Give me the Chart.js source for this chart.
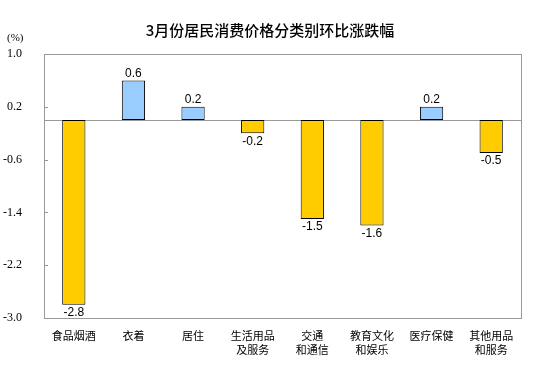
<!DOCTYPE html>
<html>
<head>
<meta charset="utf-8">
<script src="https://cdn.jsdelivr.net/npm/chart.js@4/dist/chart.umd.min.js"></script>
<style>
  html, body { margin: 0; padding: 0; background: #fff; }
  #wrap { width: 554px; height: 384px; }
</style>
</head>
<body>
<div id="wrap"><canvas id="cpiChart" width="554" height="384"></canvas></div>
<script>
'use strict';

// Data
const chartTitle = '3月份居民消费价格分类别环比涨跌幅';
const unitLabel = '(%)';
const categories = [
  ['食品烟酒'],
  ['衣着'],
  ['居住'],
  ['生活用品', '及服务'],
  ['交通', '和通信'],
  ['教育文化', '和娱乐'],
  ['医疗保健'],
  ['其他用品', '和服务']
];
const momChange = [-2.8, 0.6, 0.2, -0.2, -1.5, -1.6, 0.2, -0.5];
const yTicks = [-3.0, -2.2, -1.4, -0.6, 0.2, 1.0];

const UP_COLOR = '#99CCFF';
const DOWN_COLOR = '#FFCC00';
const FRAME_COLOR = '#999999';

// Plot frame, zero line and inward tick marks
const framePlugin = {
  id: 'frame',
  beforeDatasetsDraw(chart) {
    const { ctx, chartArea: a, scales: { y } } = chart;
    ctx.save();
    ctx.strokeStyle = FRAME_COLOR;
    ctx.lineWidth = 1;
    ctx.strokeRect(a.left + 0.5, a.top + 0.5, a.right - a.left, a.bottom - a.top);
    const y0 = Math.round(y.getPixelForValue(0)) + 0.5;
    ctx.beginPath();
    ctx.moveTo(a.left, y0);
    ctx.lineTo(a.right, y0);
    yTicks.slice(1, -1).forEach(v => {
      const py = Math.round(y.getPixelForValue(v)) + 0.5;
      ctx.moveTo(a.left, py);
      ctx.lineTo(a.left + 4, py);
    });
    ctx.stroke();
    ctx.restore();
  }
};

// Title, unit and value labels
const textPlugin = {
  id: 'texts',
  afterDraw(chart) {
    const { ctx } = chart;
    ctx.save();
    ctx.fillStyle = '#000';
    ctx.font = '500 15px "Noto Sans CJK SC", sans-serif';
    ctx.textAlign = 'center';
    ctx.textBaseline = 'middle';
    ctx.fillText(chartTitle, 270, 30);

    ctx.font = '11px "Liberation Serif", "Times New Roman", serif';
    ctx.textAlign = 'left';
    ctx.fillText(unitLabel, 7, 38);

    ctx.font = '12px "Liberation Sans", Arial, sans-serif';
    ctx.textAlign = 'center';
    const meta = chart.getDatasetMeta(0);
    meta.data.forEach((bar, i) => {
      const v = momChange[i];
      if (v >= 0) {
        ctx.textBaseline = 'bottom';
        ctx.fillText(v.toFixed(1), bar.x, bar.y - 1);
      } else {
        ctx.textBaseline = 'top';
        ctx.fillText(v.toFixed(1), bar.x, bar.y + 2);
      }
    });
    ctx.restore();
  }
};

const ctx = document.getElementById('cpiChart').getContext('2d');
new Chart(ctx, {
  type: 'bar',
  data: {
    labels: categories,
    datasets: [{
      data: momChange,
      backgroundColor: momChange.map(v => (v >= 0 ? UP_COLOR : DOWN_COLOR)),
      borderColor: '#000',
      borderWidth: 1,
      borderSkipped: false,
      barPercentage: 0.39,
      categoryPercentage: 1
    }]
  },
  options: {
    responsive: false,
    animation: false,
    layout: { padding: { top: 54, right: 33, bottom: 0, left: 0 } },
    plugins: {
      legend: { display: false },
      title: { display: false },
      tooltip: { enabled: false }
    },
    scales: {
      x: {
        grid: { display: false },
        border: { display: false },
        ticks: {
          color: '#000',
          maxRotation: 0,
          autoSkip: false,
          padding: 2,
          font: { family: '"Noto Sans CJK SC", sans-serif', size: 11, lineHeight: 1.35 }
        },
        afterFit: s => { s.height = 66; }
      },
      y: {
        min: -3,
        max: 1,
        afterBuildTicks: s => { s.ticks = yTicks.map(v => ({ value: v })); },
        grid: { display: false },
        border: { display: false },
        ticks: {
          color: '#000',
          padding: 14,
          font: { family: '"Liberation Serif", "Times New Roman", serif', size: 12 },
          callback: v => Number(v).toFixed(1)
        },
        afterFit: s => { s.width = 44; }
      }
    }
  },
  plugins: [framePlugin, textPlugin]
});
</script>
</body>
</html>
